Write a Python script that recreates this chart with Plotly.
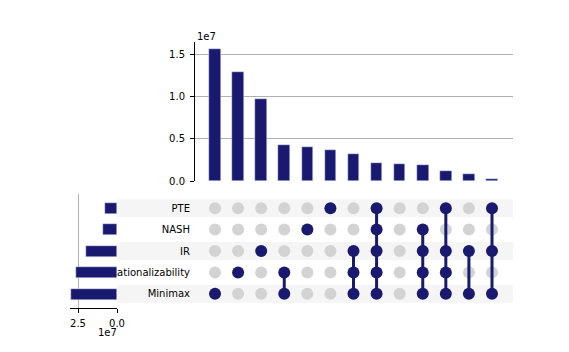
import plotly.graph_objects as go

# ---------------- data ----------------
set_names = ["PTE", "NASH", "IR", "Rationalizability", "Minimax"]
set_sizes = [0.79e7, 0.87e7, 1.96e7, 2.60e7, 2.97e7]

intersection_sizes = [1.563e7, 1.291e7, 0.971e7, 0.426e7, 0.403e7, 0.367e7,
                      0.320e7, 0.213e7, 0.201e7, 0.190e7, 0.118e7, 0.083e7, 0.024e7]
# membership for each intersection column (set names included)
memberships = [
    ["Minimax"],
    ["Rationalizability"],
    ["IR"],
    ["Rationalizability", "Minimax"],
    ["NASH"],
    ["PTE"],
    ["IR", "Rationalizability", "Minimax"],
    ["PTE", "NASH", "IR", "Rationalizability", "Minimax"],
    [],
    ["NASH", "IR", "Rationalizability", "Minimax"],
    ["PTE", "IR", "Rationalizability", "Minimax"],
    ["IR", "Minimax"],
    ["PTE", "IR", "Minimax"],
]

DARK = "#191970"
GREY = "#d3d3d3"
STRIPE = "#f5f5f5"
GRID = "#b0b0b0"
FONT = "DejaVu Sans"

W, H = 569, 352
def px(x):
    return x / W
def py(y):
    return 1 - y / H

ncol = len(intersection_sizes)
cols = list(range(ncol))
rows = list(range(len(set_names)))

fig = go.Figure()

# top bars
fig.add_trace(go.Bar(x=cols, y=intersection_sizes, marker_color=DARK, width=0.5,
                     xaxis="x", yaxis="y", showlegend=False, hoverinfo="skip"))

# matrix grey dots
gx, gy, dx, dy = [], [], [], []
for c, mem in enumerate(memberships):
    for r, s in enumerate(set_names):
        if s in mem:
            dx.append(c); dy.append(r)
        else:
            gx.append(c); gy.append(r)
fig.add_trace(go.Scatter(x=gx, y=gy, mode="markers", marker=dict(color=GREY, size=12),
                         xaxis="x2", yaxis="y2", showlegend=False, hoverinfo="skip"))
# connecting lines
for c, mem in enumerate(memberships):
    if len(mem) > 1:
        idx = [set_names.index(s) for s in mem]
        fig.add_trace(go.Scatter(x=[c, c], y=[min(idx), max(idx)], mode="lines",
                                 line=dict(color=DARK, width=3),
                                 xaxis="x2", yaxis="y2", showlegend=False, hoverinfo="skip"))
fig.add_trace(go.Scatter(x=dx, y=dy, mode="markers", marker=dict(color=DARK, size=12),
                         xaxis="x2", yaxis="y2", showlegend=False, hoverinfo="skip"))

# left bars (set sizes)
fig.add_trace(go.Bar(x=set_sizes, y=rows, orientation="h", marker_color=DARK, width=0.5,
                     xaxis="x3", yaxis="y3", showlegend=False, hoverinfo="skip"))

# stripes for alternate rows
shapes = []
for r in rows:
    if r % 2 == 0:
        shapes.append(dict(type="rect", xref="paper", yref="y2", x0=px(117), x1=px(513),
                           y0=r - 0.42, y1=r + 0.42, fillcolor=STRIPE, line_width=0,
                           layer="below"))

# geometry
xrange_cols = [-0.867, ncol - 1 + 0.91]
row_pitch = 21.5
mat_top, mat_bot = 197.5, 304.5
left_top, left_bot = 194, 307.5
row0 = 208.25
l_range = [(left_bot - row0) / row_pitch, (left_top - row0) / row_pitch]

fig.update_layout(
    width=W, height=H, autosize=False, margin=dict(l=0, r=0, t=0, b=0, pad=0),
    plot_bgcolor="rgba(0,0,0,0)", paper_bgcolor="white",
    font=dict(family=FONT, size=10, color="black"),
    shapes=shapes,
    bargap=0,
    xaxis=dict(domain=[px(195), px(513)], range=xrange_cols, showticklabels=False,
               showgrid=False, zeroline=False, showline=False, ticks="", automargin=False),
    yaxis=dict(domain=[py(181), py(42)], range=[0, 1.647e7], anchor="x", automargin=False,
               tickvals=[0, 0.5e7, 1.0e7, 1.5e7], ticktext=["0.0", "0.5", "1.0", "1.5"],
               showgrid=True, gridcolor=GRID, gridwidth=1, zeroline=False,
               showline=True, linecolor="black", linewidth=1, ticks="outside",
               ticklen=4, tickcolor="black", ticklabelstandoff=3),
    xaxis2=dict(domain=[px(195), px(513)], range=xrange_cols, anchor="y2", automargin=False,
                showticklabels=False, showgrid=False, zeroline=False, showline=False, ticks=""),
    yaxis2=dict(domain=[py(mat_bot), py(mat_top)], range=[4.5, -0.5], anchor="x2",
                automargin=False,
                tickvals=rows, ticktext=set_names, showgrid=False, zeroline=False,
                showline=False, ticks="", ticklabelstandoff=4),
    xaxis3=dict(domain=[px(70), px(117)], anchor="y3", automargin=False,
                range=[47 * 2.5e7 / 39, 0], tickvals=[2.5e7, 0], ticktext=["2.5", "0.0"],
                showgrid=True, gridcolor=GRID, gridwidth=1, zeroline=False,
                showline=True, linecolor="black", linewidth=1, ticks="outside",
                ticklen=4, tickcolor="black", ticklabelstandoff=2),
    yaxis3=dict(domain=[py(left_bot), py(left_top)], range=l_range, anchor="x3",
                automargin=False,
                showticklabels=False, showgrid=False, zeroline=False, showline=False, ticks=""),
    annotations=[
        dict(text="1e7", xref="paper", yref="paper", x=px(195), y=py(36),
             xanchor="left", yanchor="middle", showarrow=False, font=dict(size=10)),
        dict(text="1e7", xref="paper", yref="paper", x=px(107), y=py(332),
             xanchor="center", yanchor="middle", showarrow=False, font=dict(size=10)),
    ],
)

fig.write_html("out.html", config={"responsive": False})
